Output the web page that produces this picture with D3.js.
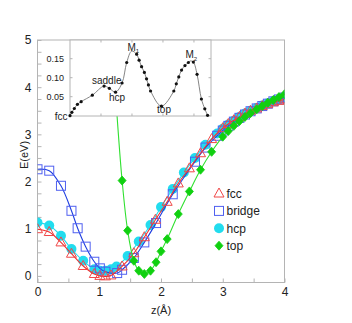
<!DOCTYPE html>
<html>
<head>
<meta charset="utf-8">
<script src="https://cdn.jsdelivr.net/npm/d3@7"></script>
<style>
  body { margin: 0; background: #fff; }
  text { font-family: "Liberation Sans", Arial, sans-serif; fill: #222; }
</style>
</head>
<body>
<svg id="chart" width="352" height="323"></svg>
<script>
// dati: z (Å) ed energia (eV) per ogni sito
const fccZ = [0, 0.19, 0.38, 0.55, 0.74, 0.92, 1.01, 1.10, 1.19, 1.37, 1.56, 1.73, 1.91, 2.10, 2.28, 2.46, 2.64, 2.82, 3.00, 3.09, 3.18, 3.27, 3.36, 3.45, 3.55, 3.64, 3.73, 3.82, 3.91, 4.00]
const fccE = [0.99, 0.93, 0.71, 0.47, 0.21, 0.04, 0.00, -0.01, 0.01, 0.20, 0.48, 0.82, 1.19, 1.57, 1.96, 2.28, 2.60, 2.90, 3.13, 3.22, 3.30, 3.37, 3.44, 3.50, 3.55, 3.60, 3.64, 3.68, 3.71, 3.74]

const bridgeZ = [0, 0.19, 0.38, 0.55, 0.65, 0.78, 0.92, 1.01, 1.10, 1.29, 1.37, 1.56, 1.73, 1.92, 2.19, 2.55, 2.72, 2.91, 3.00, 3.09, 3.18, 3.27, 3.36, 3.45, 3.55, 3.64, 3.73, 3.82, 3.91, 4.00]
const bridgeE = [2.26, 2.23, 1.91, 1.38, 1.01, 0.62, 0.30, 0.16, 0.09, 0.06, 0.13, 0.38, 0.71, 1.12, 1.73, 2.42, 2.72, 2.97, 3.08, 3.18, 3.27, 3.35, 3.42, 3.49, 3.55, 3.60, 3.65, 3.70, 3.74, 3.78]

const hcpZ = [0, 0.19, 0.38, 0.55, 0.74, 0.92, 1.01, 1.10, 1.19, 1.28, 1.46, 1.64, 1.83, 2.00, 2.19, 2.37, 2.55, 2.72, 2.91, 3.00, 3.09, 3.18, 3.27, 3.36, 3.45, 3.55, 3.64, 3.73, 3.82, 3.91, 4.00]
const hcpE = [1.13, 1.07, 0.85, 0.57, 0.32, 0.14, 0.11, 0.11, 0.14, 0.20, 0.42, 0.73, 1.08, 1.46, 1.84, 2.19, 2.50, 2.78, 3.02, 3.12, 3.21, 3.29, 3.37, 3.44, 3.50, 3.56, 3.61, 3.66, 3.70, 3.74, 3.78]

const topZ = [1.28, 1.37, 1.46, 1.56, 1.64, 1.73, 1.83, 1.92, 2.00, 2.10, 2.28, 2.46, 2.64, 2.82, 3.00, 3.09, 3.18, 3.27, 3.36, 3.45, 3.55, 3.64, 3.73, 3.82, 3.91, 4.00]
const topE = [3.55, 2.02, 0.96, 0.32, 0.11, 0.04, 0.11, 0.29, 0.52, 0.78, 1.31, 1.79, 2.25, 2.63, 2.95, 3.07, 3.18, 3.28, 3.37, 3.45, 3.53, 3.60, 3.67, 3.73, 3.79, 3.85]

// inset: percorso di diffusione (coordinata s) ed energia (eV)
const insetS = [0, 0.06, 0.14, 0.24, 0.36, 0.72, 1.10, 1.27, 1.47, 1.68, 1.83, 2.15, 2.23, 2.31, 2.40, 2.47, 2.53, 2.60, 2.95, 3.35, 3.43, 3.51, 3.60, 3.71, 3.82, 3.98, 4.10, 4.24, 4.35, 4.44]
const insetE = [0, 0.009, 0.019, 0.030, 0.037, 0.054, 0.078, 0.072, 0.062, 0.086, 0.140, 0.162, 0.146, 0.129, 0.114, 0.097, 0.081, 0.065, 0.025, 0.065, 0.084, 0.102, 0.120, 0.132, 0.140, 0.141, 0.109, 0.044, 0.018, 0.001]
// picchi della curva (senza punto)
const peakS = [1.99, 3.88]
const peakE = [0.170, 0.144]

const xTicks = [0, 1, 2, 3, 4]
const yTicks = [0, 1, 2, 3, 4, 5]
const insetTicks = [0.05, 0.10, 0.15]

const svg = d3.select('#chart')
const frameColor = '#b4b4b4'

const xScale = d3.scaleLinear().domain([0, 4]).range([37.5, 284.5])
const yScale = d3.scaleLinear().domain([-0.14, 5]).range([282.5, 40])

const zip = (a, b) => a.map((v, i) => [v, b[i]])

// assi con tacche interne
const xAxis = d3.axisBottom(xScale)
	.tickValues(d3.range(0, 4.01, 0.5))
	.tickSize(-4)
	.tickPadding(5)
	.tickFormat(d => xTicks.includes(d) ? d : '')
svg.append('g').attr('transform', 'translate(0,282.5)').call(xAxis)

const yAxis = d3.axisLeft(yScale)
	.tickValues(d3.range(0, 5.01, 0.25))
	.tickSize(-4)
	.tickPadding(6)
	.tickFormat(d => yTicks.includes(d) ? d : '')
svg.append('g').attr('transform', 'translate(37.5,0)').call(yAxis)

svg.selectAll('.tick line').style('stroke', frameColor)
svg.selectAll('path.domain').remove()
svg.selectAll('.tick text').style('font-size', '12px').style('fill', '#222')

svg.append('rect')
	.attr('x', 37.5).attr('y', 40)
	.attr('width', 247).attr('height', 242.5)
	.style('fill', 'none').style('stroke', frameColor)

// etichette degli assi
svg.append('text')
	.attr('transform', 'translate(24,155) rotate(-90)')
	.attr('text-anchor', 'middle')
	.attr('dy', '0.35em')
	.style('font-size', '11px')
	.text('E(eV)')
svg.append('text')
	.attr('x', 161).attr('y', 314)
	.attr('text-anchor', 'middle')
	.style('font-size', '11px')
	.text('z(Å)')

// serie
const series = [
	{ name: 'hcp', z: hcpZ, e: hcpE, color: '#22dcee', shape: 'circle' },
	{ name: 'bridge', z: bridgeZ, e: bridgeE, color: '#1f3fe0', mark: '#5060f0', shape: 'square' },
	{ name: 'fcc', z: fccZ, e: fccE, color: '#f03030', mark: '#f04848', shape: 'triangle' },
	{ name: 'top', z: topZ, e: topE, color: '#30e030', mark: '#10d010', shape: 'diamond' }
]

const plot = svg.append('g')
svg.append('clipPath').attr('id', 'clip')
	.append('rect').attr('x', 37.5).attr('y', 40).attr('width', 247).attr('height', 242.5)
plot.attr('clip-path', 'url(#clip)')

const line = d3.line()
	.x(d => xScale(d[0]))
	.y(d => yScale(d[1]))
	.curve(d3.curveCatmullRom.alpha(0.5))

function drawMarker(g, shape, color, cx, cy) {
	if (shape === 'circle') {
		g.append('circle').attr('cx', cx).attr('cy', cy).attr('r', 5)
			.style('fill', color).style('stroke', 'none')
	} else if (shape === 'square') {
		g.append('rect').attr('x', cx - 4.5).attr('y', cy - 4.5).attr('width', 9).attr('height', 9)
			.style('fill', 'none').style('stroke', color).style('stroke-width', 1)
	} else if (shape === 'triangle') {
		g.append('path').attr('d', `M${cx},${cy - 5.5}L${cx + 5},${cy + 3.5}L${cx - 5},${cy + 3.5}Z`)
			.style('fill', 'none').style('stroke', color).style('stroke-width', 1)
	} else {
		g.append('path').attr('d', `M${cx},${cy - 4.5}L${cx + 4},${cy}L${cx},${cy + 4.5}L${cx - 4},${cy}Z`)
			.style('fill', color).style('stroke', color).style('stroke-width', 0.8)
	}
}

series.forEach(s => {
	const pts = zip(s.z, s.e)
	plot.append('path').datum(pts)
		.attr('d', line)
		.style('fill', 'none').style('stroke', s.color).style('stroke-width', 1.1)
	const g = plot.append('g')
	pts.forEach(p => drawMarker(g, s.shape, s.mark || s.color, xScale(p[0]), yScale(p[1])))
})

// legenda
const legendOrder = ['fcc', 'bridge', 'hcp', 'top']
legendOrder.forEach((name, i) => {
	const s = series.find(d => d.name === name)
	const yy = 193.5 + i * 17.4
	drawMarker(svg, s.shape, s.mark || s.color, 219, yy)
	svg.append('text').attr('x', 226.5).attr('y', yy).attr('dy', '0.36em')
		.style('font-size', '12px').text(name)
})

// inset
const inset = svg.append('g')
const ix = d3.scaleLinear().domain([0, 4.55]).range([70, 211])
const iy = d3.scaleLinear().domain([0, 0.2]).range([115.7, 39.7])

inset.append('rect')
	.attr('x', 70).attr('y', 40).attr('width', 141).attr('height', 76)
	.style('fill', '#fff').style('stroke', frameColor)

const iTicksX = [1, 2, 3, 4]
iTicksX.forEach(t => {
	inset.append('line').attr('x1', ix(t)).attr('x2', ix(t)).attr('y1', 40).attr('y2', 42.5).style('stroke', frameColor)
	inset.append('line').attr('x1', ix(t)).attr('x2', ix(t)).attr('y1', 116).attr('y2', 113.5).style('stroke', frameColor)
})
insetTicks.forEach(t => {
	inset.append('line').attr('x1', 70).attr('x2', 72.5).attr('y1', iy(t)).attr('y2', iy(t)).style('stroke', frameColor)
	inset.append('line').attr('x1', 211).attr('x2', 208.5).attr('y1', iy(t)).attr('y2', iy(t)).style('stroke', frameColor)
	inset.append('text').attr('x', 64).attr('y', iy(t)).attr('dy', '0.35em')
		.attr('text-anchor', 'end').style('font-size', '9px')
		.text(d3.format('.2f')(t))
})

const curvePts = zip(insetS.concat(peakS), insetE.concat(peakE)).sort((a, b) => a[0] - b[0])
const iline = d3.line().x(d => ix(d[0])).y(d => iy(d[1])).curve(d3.curveCatmullRom.alpha(0.5))
inset.append('path').datum(curvePts).attr('d', iline)
	.style('fill', 'none').style('stroke', '#777').style('stroke-width', 0.9)
inset.selectAll('circle.dot').data(zip(insetS, insetE)).enter()
	.append('circle').attr('class', 'dot')
	.attr('cx', d => ix(d[0])).attr('cy', d => iy(d[1])).attr('r', 1.6)
	.style('fill', '#111')

const iLabel = (x, y, t, anchor) => inset.append('text').attr('x', x).attr('y', y)
	.attr('dy', '0.35em').attr('text-anchor', anchor || 'start').style('font-size', '10px').text(t)
iLabel(67.5, 116, 'fcc', 'end')
iLabel(92, 80, 'saddle')
iLabel(109, 97.5, 'hcp')
iLabel(164, 109.5, 'top', 'middle')

const mLabel = (x, y, sub) => {
	const t = inset.append('text').attr('x', x).attr('y', y).style('font-size', '10px')
	t.append('tspan').text('M')
	t.append('tspan').attr('dy', 2.5).style('font-size', '6px').text(sub)
}
mLabel(127.5, 50.5, '1')
mLabel(185.5, 58, '2')
</script>
</body>
</html>
